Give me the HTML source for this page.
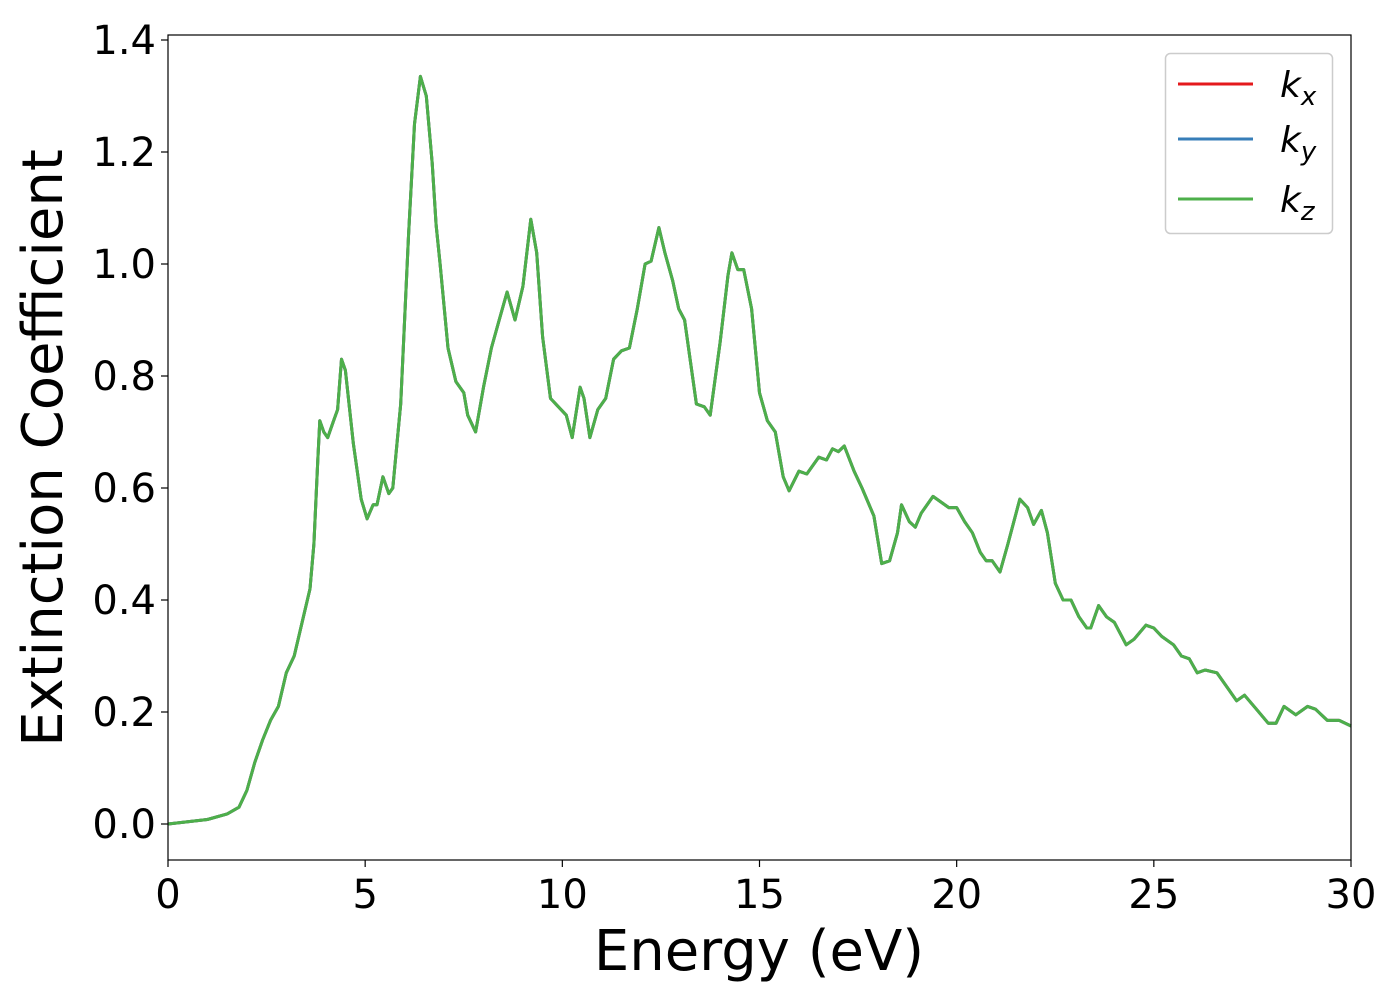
<!DOCTYPE html>
<html><head><meta charset="utf-8"><style>
body{margin:0;background:#fff;}
svg text{font-family:"DejaVu Sans","Liberation Sans",sans-serif;}
</style></head><body>
<svg id="chart" width="1400" height="1000" xmlns="http://www.w3.org/2000/svg">
<g id="plot"></g>
<g id="axes"></g>
<text x="759" y="970" font-size="56" text-anchor="middle">Energy (eV)</text>
<text transform="translate(62,448) rotate(-90)" font-size="56" text-anchor="middle">Extinction Coefficient</text>
<g>
<rect x="1165.5" y="53.5" width="167" height="180" rx="5" fill="#fff" stroke="#ccc" stroke-width="1.5"/>
<g><line x1="1178" y1="84" x2="1253" y2="84" stroke="#e41a1c" stroke-width="3"/><text x="1280" y="97" font-size="36" font-style="italic">k<tspan font-size="26" dy="8">x</tspan></text></g>
<g><line x1="1178" y1="139" x2="1253" y2="139" stroke="#377eb8" stroke-width="3"/><text x="1280" y="152" font-size="36" font-style="italic">k<tspan font-size="26" dy="8">y</tspan></text></g>
<g><line x1="1178" y1="199" x2="1253" y2="199" stroke="#4daf4a" stroke-width="3"/><text x="1280" y="212" font-size="36" font-style="italic">k<tspan font-size="26" dy="8">z</tspan></text></g>
</g>
</svg>
<script>
const energy=[0,1,1.5,1.8,2.0,2.2,2.4,2.6,2.8,3.0,3.2,3.4,3.6,3.7,3.8,3.85,3.95,4.05,4.2,4.3,4.4,4.5,4.7,4.9,5.05,5.2,5.3,5.45,5.6,5.7,5.9,6.1,6.25,6.4,6.55,6.7,6.8,6.9,7.1,7.3,7.5,7.6,7.8,8.0,8.2,8.4,8.6,8.8,9.0,9.2,9.35,9.5,9.7,9.9,10.1,10.25,10.45,10.55,10.7,10.9,11.1,11.3,11.5,11.7,11.9,12.1,12.25,12.45,12.6,12.8,12.95,13.1,13.4,13.6,13.75,14.0,14.2,14.3,14.45,14.6,14.8,15.0,15.2,15.4,15.6,15.75,16.0,16.2,16.5,16.7,16.85,17.0,17.15,17.4,17.6,17.9,18.1,18.3,18.5,18.6,18.8,18.95,19.1,19.4,19.6,19.8,20.0,20.2,20.4,20.6,20.75,20.9,21.1,21.3,21.6,21.8,21.95,22.15,22.3,22.5,22.7,22.9,23.1,23.3,23.4,23.6,23.8,24.0,24.3,24.5,24.8,25.0,25.2,25.5,25.7,25.9,26.1,26.3,26.6,26.9,27.1,27.3,27.6,27.9,28.1,28.3,28.6,28.9,29.1,29.4,29.7,30];
const kValues=[0,0.008,0.018,0.03,0.06,0.11,0.15,0.185,0.21,0.27,0.30,0.36,0.42,0.5,0.65,0.72,0.70,0.69,0.72,0.74,0.83,0.81,0.68,0.58,0.545,0.57,0.57,0.62,0.59,0.60,0.75,1.05,1.25,1.335,1.30,1.18,1.07,1.0,0.85,0.79,0.77,0.73,0.70,0.78,0.85,0.9,0.95,0.90,0.96,1.08,1.02,0.87,0.76,0.745,0.73,0.69,0.78,0.76,0.69,0.74,0.76,0.83,0.845,0.85,0.92,1.0,1.005,1.065,1.02,0.97,0.92,0.90,0.75,0.745,0.73,0.86,0.98,1.02,0.99,0.99,0.92,0.77,0.72,0.70,0.62,0.595,0.63,0.625,0.655,0.65,0.67,0.665,0.675,0.63,0.6,0.55,0.465,0.47,0.52,0.57,0.54,0.53,0.555,0.585,0.575,0.565,0.565,0.54,0.52,0.485,0.47,0.47,0.45,0.5,0.58,0.565,0.535,0.56,0.52,0.43,0.40,0.40,0.37,0.35,0.35,0.39,0.37,0.36,0.32,0.33,0.355,0.35,0.335,0.32,0.30,0.295,0.27,0.275,0.27,0.24,0.22,0.23,0.205,0.18,0.18,0.21,0.195,0.21,0.205,0.185,0.185,0.175];
const xTicks=[0,5,10,15,20,25,30];
const yTicks=[0.0,0.2,0.4,0.6,0.8,1.0,1.2,1.4];
const seriesNames=['kx','ky','kz'];
const seriesColors=['#e41a1c','#377eb8','#4daf4a'];
const L=168,R=1351,T=35,B=860;
const X=v=>L+(v-0)/30*(R-L);
const Y=v=>824-v*560;
const ns='http://www.w3.org/2000/svg';
const plot=document.getElementById('plot'),axes=document.getElementById('axes');
function mk(tag,attrs,parent){const e=document.createElementNS(ns,tag);for(const k in attrs)e.setAttribute(k,attrs[k]);parent.appendChild(e);return e;}
seriesNames.forEach((n,i)=>{
 const p=mk('polyline',{points:energy.map((e,j)=>X(e).toFixed(1)+','+Y(kValues[j]).toFixed(1)).join(' '),fill:'none',stroke:seriesColors[i],'stroke-width':3,'stroke-linejoin':'round'},plot);
 
 
});
const fr=mk('rect',{x:L,y:T,width:R-L,height:B-T,fill:'none',stroke:'#000','stroke-width':1.2},axes);


xTicks.forEach(t=>{
 const l=mk('line',{x1:X(t),x2:X(t),y1:B,y2:B+7,stroke:'#000','stroke-width':1.2},axes);
 
 
 const tx=mk('text',{x:X(t),y:B+48,'font-size':40,'text-anchor':'middle'},axes);
 tx.textContent=t;
 
 
});
yTicks.forEach(t=>{
 const l=mk('line',{x1:L-7,x2:L,y1:Y(t),y2:Y(t),stroke:'#000','stroke-width':1.2},axes);
 
 
 const tx=mk('text',{x:L-12,y:Y(t)+14,'font-size':40,'text-anchor':'end'},axes);
 tx.textContent=t.toFixed(1);
 
 
});
</script>
</body></html>
